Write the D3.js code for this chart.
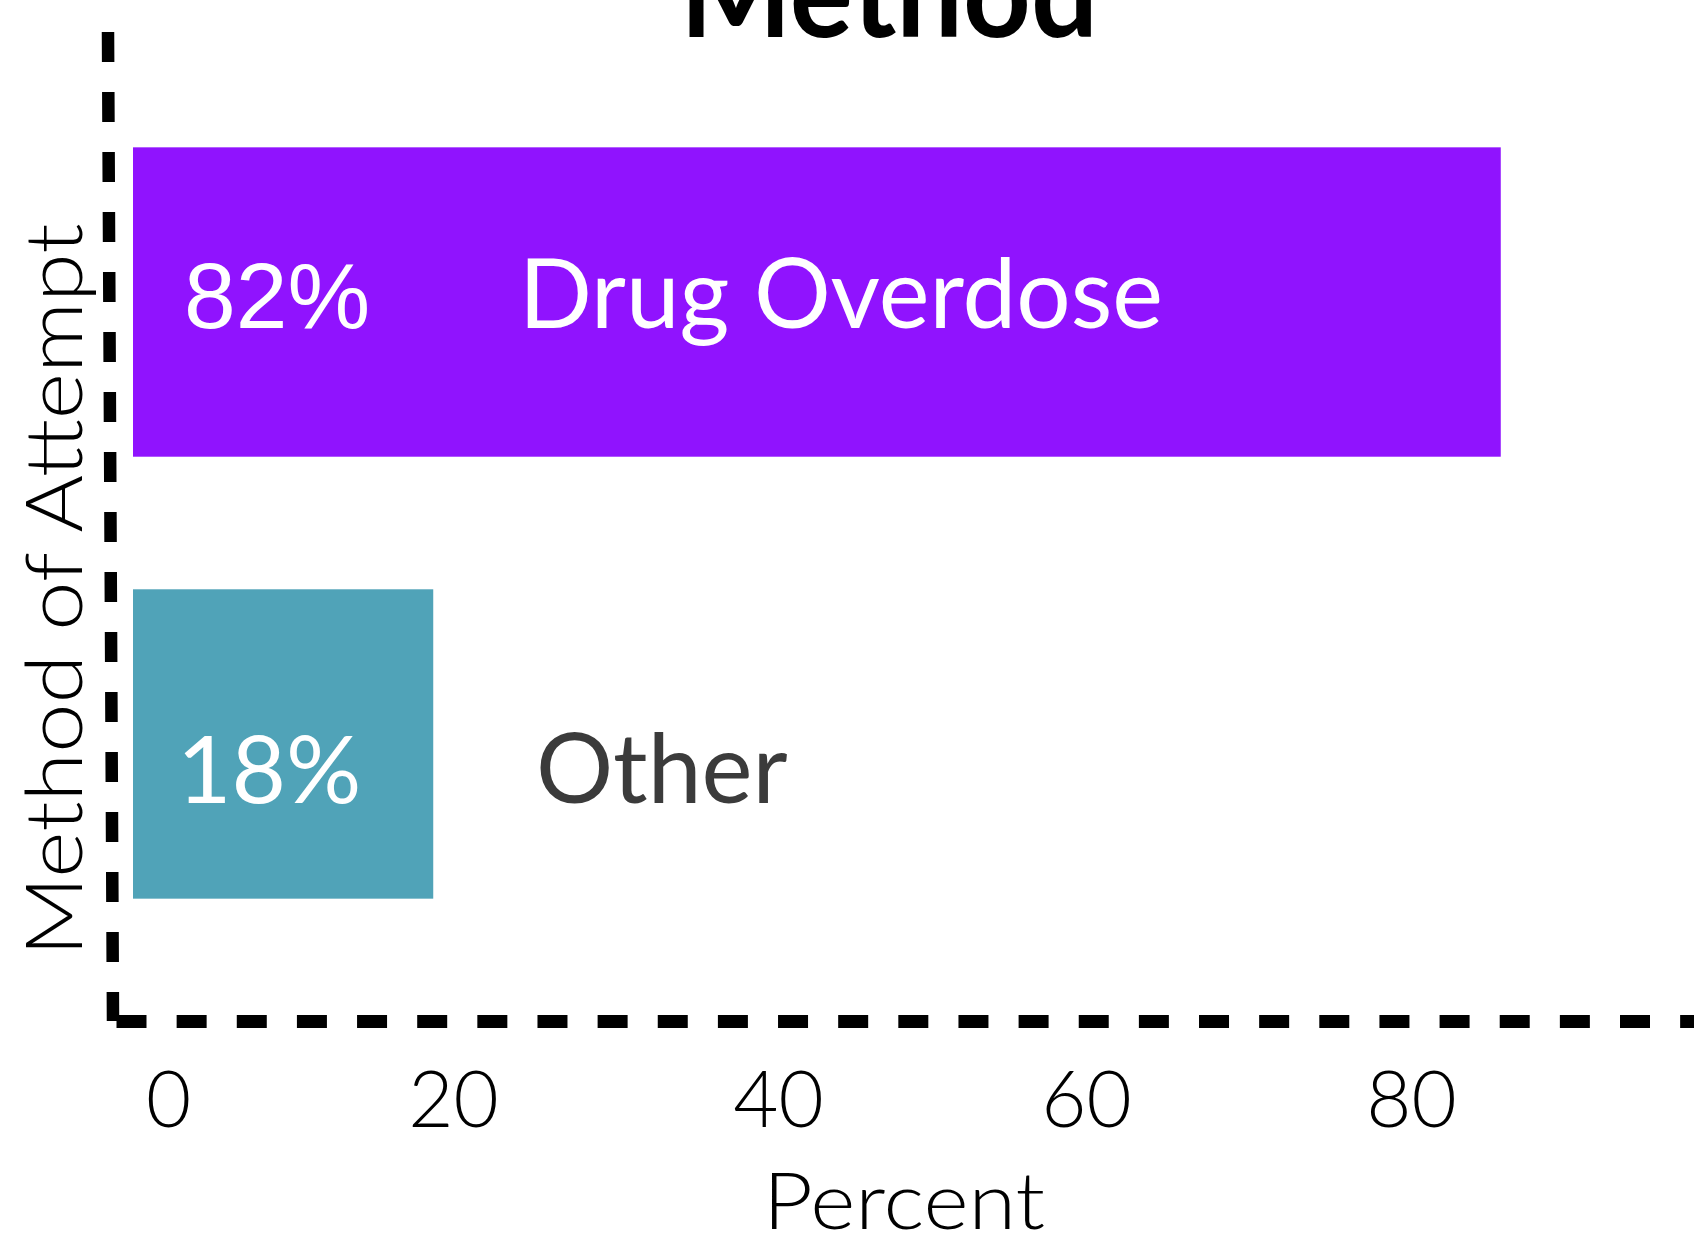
<!DOCTYPE html>
<html>
<head>
<meta charset="utf-8">
<script src="https://cdn.jsdelivr.net/npm/d3@7"></script>
<style>
  html, body { margin: 0; padding: 0; background: #fff; }
  svg { display: block; }
</style>
</head>
<body>
<svg id="chart" width="1699" height="1235"></svg>
<script>
// Share of attempts by method
const categories = ["Drug Overdose", "Other"];
const percents = [82, 18];
const valueLabels = ["82%", "18%"];
const tickValues = [0, 20, 40, 60, 80];
const tickLabels = ["0", "20", "40", "60", "80"];
const barColors = ["#9013FE", "#50A3B8"];

const svg = d3.select("#chart");

// Bar scales
const x = d3.scaleLinear().domain([0, 100]).range([133, 1801]);
const y = d3.scaleBand().domain(categories)
  .range([28, 1018]).paddingInner(0.3).paddingOuter(0.27);

// Tick-label scale (labels sit on an uneven spacing under the axis)
const xTicks = d3.scaleLinear().domain(tickValues).range([168, 453, 778, 1086, 1411]);

// Text placement for the in-bar labels
const labelLayout = {
  "Drug Overdose": { valueX: 184, valueFont: "'Liberation Sans', Arial, sans-serif", valueSize: 93, nameX: 519, nameSize: 96, nameColor: "#ffffff", dy: 181 },
  "Other":         { valueX: 177, valueFont: "Lato, sans-serif", valueSize: 94, nameX: 536, nameSize: 96.5, nameColor: "#3b3b3b", dy: 214 }
};

const rows = categories.map((c, i) => ({ cat: c, v: percents[i], label: valueLabels[i], color: barColors[i] }));

// Bars
svg.append("g").selectAll("rect").data(rows).join("rect")
  .attr("x", x(0))
  .attr("y", d => y(d.cat))
  .attr("width", d => x(d.v) - x(0))
  .attr("height", y.bandwidth())
  .attr("fill", d => d.color);

// Value labels
svg.append("g").selectAll("text").data(rows).join("text")
  .attr("x", d => labelLayout[d.cat].valueX)
  .attr("y", d => y(d.cat) + labelLayout[d.cat].dy)
  .attr("fill", "#ffffff")
  .style("font-family", d => labelLayout[d.cat].valueFont)
  .style("font-size", d => labelLayout[d.cat].valueSize + "px")
  .text(d => d.label);

// Category labels
svg.append("g").selectAll("text").data(rows).join("text")
  .attr("x", d => labelLayout[d.cat].nameX)
  .attr("y", d => y(d.cat) + labelLayout[d.cat].dy)
  .attr("fill", d => labelLayout[d.cat].nameColor)
  .style("font-family", "Lato, sans-serif")
  .style("font-size", d => labelLayout[d.cat].nameSize + "px")
  .text(d => d.cat);

// Dashed axis lines
svg.append("line")
  .attr("x1", 108).attr("y1", 32).attr("x2", 113).attr("y2", 1021)
  .attr("stroke", "#000").attr("stroke-width", 12.5)
  .attr("stroke-dasharray", "30 30");
svg.append("line")
  .attr("x1", 116.5).attr("y1", 1021.5).attr("x2", 1694).attr("y2", 1021.5)
  .attr("stroke", "#000").attr("stroke-width", 13)
  .attr("stroke-dasharray", "30 30.14");

// Tick labels
const axis = svg.append("g")
  .attr("transform", "translate(0,1127)")
  .call(d3.axisBottom(xTicks).tickValues(tickValues).tickSize(0)
    .tickFormat((d, i) => tickLabels[i]));
axis.select(".domain").remove();
axis.selectAll("text")
  .attr("y", 0).attr("dy", 0)
  .attr("fill", "#000")
  .style("font-family", "Lato, sans-serif")
  .style("font-weight", 300)
  .style("font-size", "78px");

// Axis titles
svg.append("text")
  .attr("x", 904).attr("y", 1229)
  .attr("text-anchor", "middle")
  .attr("textLength", 282).attr("lengthAdjust", "spacingAndGlyphs")
  .style("font-family", "Lato, sans-serif").style("font-weight", 300)
  .style("font-size", "78px")
  .text("Percent");

svg.append("text")
  .attr("transform", "translate(82,590) rotate(-90)")
  .attr("text-anchor", "middle")
  .attr("textLength", 733).attr("lengthAdjust", "spacingAndGlyphs")
  .style("font-family", "Lato, sans-serif").style("font-weight", 300)
  .style("font-size", "78px")
  .text("Method of Attempt");

// Title
svg.append("text")
  .attr("x", 889).attr("y", 37)
  .attr("text-anchor", "middle")
  .attr("textLength", 418).attr("lengthAdjust", "spacingAndGlyphs")
  .style("font-family", "Lato, sans-serif").style("font-weight", "bold")
  .style("font-size", "125px")
  .text("Method");
</script>
</body>
</html>
